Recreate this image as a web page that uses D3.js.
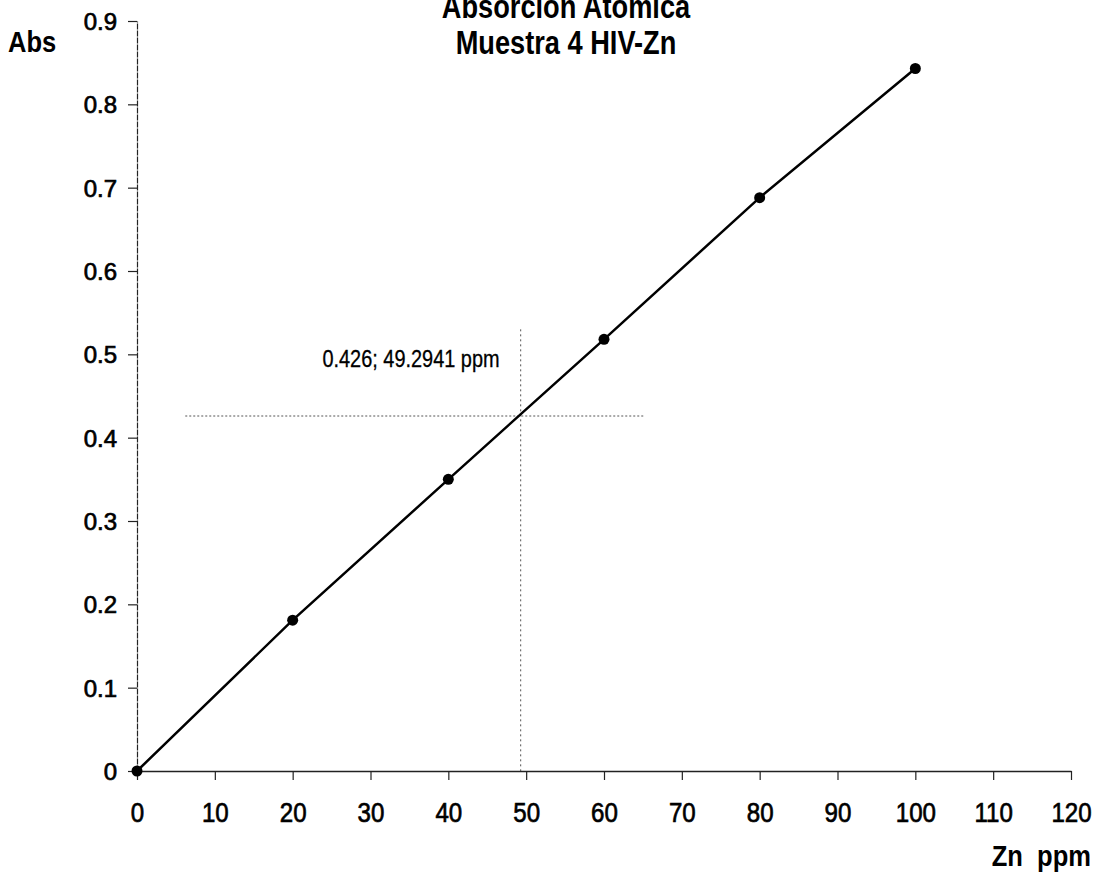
<!DOCTYPE html>
<html>
<head>
<meta charset="utf-8">
<script src="https://cdn.jsdelivr.net/npm/d3@7"></script>
<style>
  html, body { margin: 0; padding: 0; background: #fff; }
  svg { display: block; font-family: "Liberation Sans", Arial, sans-serif; }
</style>
</head>
<body>
<svg id="chart" width="1103" height="885"></svg>
<script>
// Calibration standards: Zn concentration (ppm) vs absorbance
const concentrations = [0, 20, 40, 60, 80, 100];
const absorbances = [0, 0.181, 0.350, 0.518, 0.688, 0.843];

// Sample reading interpolated on the calibration curve
const sampleAbs = 0.426;
const samplePpm = 49.2941;

const xTicks = [0, 10, 20, 30, 40, 50, 60, 70, 80, 90, 100, 110, 120];
const yTicks = [0, 0.1, 0.2, 0.3, 0.4, 0.5, 0.6, 0.7, 0.8, 0.9];

const titleLines = ["Absorcion Atomica", "Muestra 4 HIV-Zn"];

const svg = d3.select("#chart");

const x = d3.scaleLinear().domain([0, 120]).range([137, 1071]);
const y = d3.scaleLinear().domain([0, 0.9]).range([771, 21]);

// Squeeze text horizontally to a narrow face
function condense(sel, factor) {
  sel.each(function () {
    const w = this.getComputedTextLength();
    d3.select(this).attr("textLength", w * factor).attr("lengthAdjust", "spacingAndGlyphs");
  });
}

// Sample crosshair (dotted)
svg.append("line")
  .attr("x1", x(6.2)).attr("x2", x(65.1))
  .attr("y1", y(sampleAbs)).attr("y2", y(sampleAbs))
  .attr("stroke", "#555").attr("stroke-width", 1)
  .attr("stroke-dasharray", "2,2");
svg.append("line")
  .attr("x1", x(samplePpm)).attr("x2", x(samplePpm))
  .attr("y1", y(0.53)).attr("y2", y(0))
  .attr("stroke", "#555").attr("stroke-width", 1)
  .attr("stroke-dasharray", "2,3");

// Axes
const yAxis = d3.axisLeft(y).tickValues(yTicks)
  .tickFormat(d => d === 0 ? "0" : d3.format(".1f")(d))
  .tickSize(9).tickSizeOuter(0).tickPadding(11);
const gy = svg.append("g").attr("transform", `translate(${x(0)},0)`).call(yAxis);
gy.select(".domain").attr("stroke", "#222").attr("stroke-width", 1.2).attr("stroke-dasharray", "6,1");
gy.selectAll(".tick line").attr("stroke", "#222").attr("stroke-width", 1.2);
gy.selectAll(".tick text")
  .attr("font-size", 24).attr("fill", "#000")
  .attr("stroke", "#000").attr("stroke-width", 0.7)
  .attr("font-family", "'Liberation Sans', Arial, sans-serif")
  .attr("dy", "0.36em");

const xAxis = d3.axisBottom(x).tickValues(xTicks)
  .tickSize(9).tickSizeOuter(0).tickPadding(28);
const gx = svg.append("g").attr("transform", `translate(0,${y(0)})`).call(xAxis);
gx.select(".domain").attr("stroke", "#222").attr("stroke-width", 1.5);
gx.selectAll(".tick line").attr("stroke", "#222").attr("stroke-width", 1.2);
gx.selectAll(".tick text")
  .attr("font-size", 28).attr("fill", "#000")
  .attr("stroke", "#000").attr("stroke-width", 0.7)
  .attr("font-family", "'Liberation Sans', Arial, sans-serif")
  .attr("dy", "0.5em");
condense(gx.selectAll(".tick text"), 0.86);

// Calibration line through the standards
const pts = concentrations.map((c, i) => [c, absorbances[i]]);
svg.append("path")
  .datum(pts)
  .attr("fill", "none").attr("stroke", "#000").attr("stroke-width", 2.5)
  .attr("d", d3.line().x(d => x(d[0])).y(d => y(d[1])));

svg.selectAll("circle.std")
  .data(pts).join("circle")
  .attr("class", "std")
  .attr("cx", d => x(d[0])).attr("cy", d => y(d[1]))
  .attr("r", 5.5).attr("fill", "#000");

// Sample annotation
const note = svg.append("text")
  .attr("x", 411).attr("y", 367)
  .attr("text-anchor", "middle")
  .attr("font-size", 24).attr("fill", "#000")
  .attr("stroke", "#000").attr("stroke-width", 0.3)
  .text(`${sampleAbs}; ${samplePpm} ppm`);
condense(note, 0.83);

// Titles
const titles = svg.selectAll("text.title")
  .data(titleLines).join("text")
  .attr("class", "title")
  .attr("x", 566).attr("y", (d, i) => 18 + i * 36)
  .attr("text-anchor", "middle")
  .attr("font-size", 34).attr("font-weight", "bold").attr("fill", "#000")
  .text(d => d);
condense(titles, 0.8);

// Axis titles
const absLabel = svg.append("text")
  .attr("x", 8).attr("y", 52)
  .attr("font-size", 30).attr("font-weight", "bold").attr("fill", "#000")
  .text("Abs");
condense(absLabel, 0.85);

const znLabel = svg.append("text")
  .attr("x", 1091).attr("y", 866)
  .attr("text-anchor", "end")
  .attr("font-size", 29).attr("font-weight", "bold").attr("fill", "#000")
  .attr("xml:space", "preserve")
  .text("Zn  ppm");
condense(znLabel, 0.88);
</script>
</body>
</html>
